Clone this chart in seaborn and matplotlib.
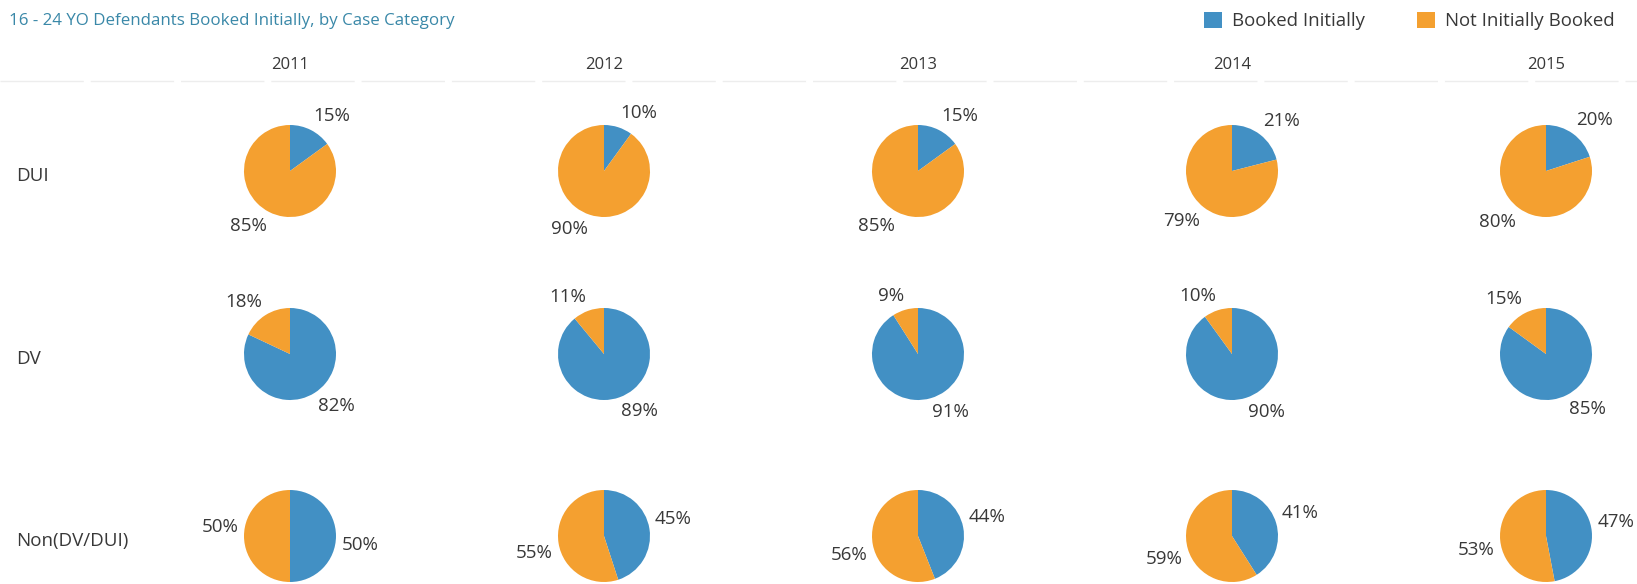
import numpy as np
import matplotlib
matplotlib.use("Agg")
import matplotlib.pyplot as plt
from matplotlib.patches import Patch
from matplotlib.lines import Line2D
import seaborn as sns

years = ["2011", "2012", "2013", "2014", "2015"]
categories = ["DUI", "DV", "Non(DV/DUI)"]
series = ["Booked Initially", "Not Initially Booked"]

booked_dui = [15, 10, 15, 21, 20]
not_booked_dui = [85, 90, 85, 79, 80]
booked_dv = [82, 89, 91, 90, 85]
not_booked_dv = [18, 11, 9, 10, 15]
booked_non = [50, 45, 44, 41, 47]
not_booked_non = [50, 55, 56, 59, 53]

booked = [booked_dui, booked_dv, booked_non]
not_booked = [not_booked_dui, not_booked_dv, not_booked_non]

sns.set_theme(style="white")
plt.rcParams["font.family"] = ["Open Sans", "DejaVu Sans"]
palette = sns.color_palette(["#4290c4", "#f4a030"])
text_col = "#383838"

W, H = 1637, 584
fig = plt.figure(figsize=(W / 100, H / 100), dpi=100)

R = 46      # pie radius in px
box = 170   # axes box in px
col_x = [290 + 314 * i for i in range(len(years))]
row_y = [171, 354, 536]

for r, cat in enumerate(categories):
    for c, yr in enumerate(years):
        cx, cy = col_x[c], row_y[r]
        ax = fig.add_axes([(cx - box / 2) / W, 1 - (cy + box / 2) / H, box / W, box / H])
        vals = [booked[r][c], not_booked[r][c]]
        wedges, _ = ax.pie(vals, colors=palette, startangle=90, counterclock=False,
                           wedgeprops=dict(linewidth=0))
        # tableau-like labels: nearest corner of the text sits just outside the rim
        for w, v in zip(wedges, vals):
            ang = np.radians((w.theta1 + w.theta2) / 2)
            x, y = round(np.cos(ang), 6), round(np.sin(ang), 6)
            ha = "left" if x >= 0 else "right"
            if y == 0:
                va = "bottom" if x < 0 else "top"
            else:
                va = "bottom" if y > 0 else "top"
            ax.text(1.12 * x, 1.12 * y, "{}%".format(v), ha=ha, va=va,
                    fontsize=13.5, color=text_col)
        lim = box / 2 / R
        ax.set_xlim(-lim, lim)
        ax.set_ylim(-lim, lim)
        ax.set_aspect("equal")
        ax.axis("off")

    fig.text(16 / W, 1 - (row_y[r] + 5) / H, cat, fontsize=13.5, color=text_col, va="center")

for c, yr in enumerate(years):
    fig.text(col_x[c] / W, 1 - 65 / H, yr, fontsize=12, color=text_col, ha="center", va="center")

fig.add_artist(Line2D([0, 1], [1 - 81 / H, 1 - 81 / H], transform=fig.transFigure,
                      color="#ededed", lw=1, ls=(0, (60, 5))))

fig.text(9 / W, 1 - 21 / H, "16 - 24 YO Defendants Booked Initially, by Case Category",
         fontsize=12.2, color="#3a88a8", va="center")

handles = [Patch(facecolor=palette[i], edgecolor="none", label=s) for i, s in enumerate(series)]
fig.legend(handles=handles, loc="center right", bbox_to_anchor=(1 - 22 / W, 1 - 21 / H),
           ncol=2, frameon=False, fontsize=13.4, handlelength=1.0, handleheight=1.0,
           handletextpad=0.55, columnspacing=2.75, labelcolor=text_col,
           borderpad=0, borderaxespad=0)

fig.savefig("out.png", dpi=100)
